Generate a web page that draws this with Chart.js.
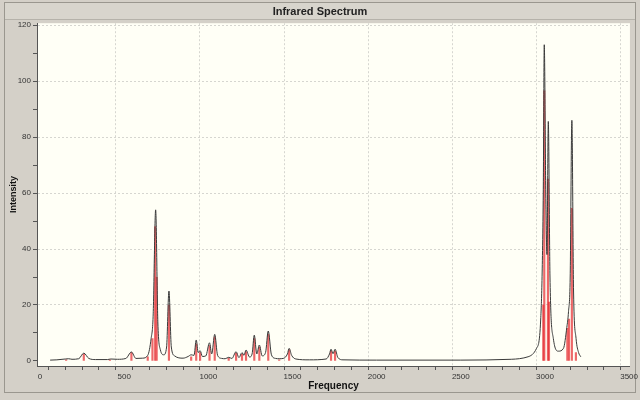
<!DOCTYPE html>
<html>
<head>
<meta charset="utf-8">
<script src="https://cdn.jsdelivr.net/npm/chart.js@4.4.1/dist/chart.umd.min.js"></script>
<style>
html,body{margin:0;padding:0;background:#d4d0c8;}
canvas{display:block;}
</style>
</head>
<body>
<canvas id="c" width="640" height="400"></canvas>
<script>
// Broadened spectrum (frequency, intensity)
const specFreq = [60,100,150,170,190,230,260,290,330,400,420,460,510,543,570,610,640,660,672,687,700,715,735,752,766,780,800,850,880,898,915,928,940,951,965,985,1007,1020,1038,1055,1080,1100,1121,1140,1165,1182,1200,1212,1224,1245,1260,1273,1288,1303,1320,1340,1356,1375,1400,1421,1445,1470,1480,1495,1520,1600,1700,1720,1729,1741,1753,1770,1800,2000,2500,2800,2900,2950,2975,2990,2996,3005,3012,3020,3030,3050,3080,3110,3130,3140,3150,3160,3170,3185,3200,3213];
const specInt  = [0.3,0.4,0.7,0.8,0.6,0.8,2.8,0.9,0.5,0.5,0.7,0.6,0.9,3.2,0.9,1.0,2.0,8,16,54,14,4,2.2,5,25,5,1.8,1.0,1.6,2.2,2.0,7.5,3.0,3.7,1.6,1.8,6.5,2.5,9.5,2.0,0.9,0.8,1.3,0.9,3.3,1.2,3.0,2.0,3.9,1.4,2.5,9.2,2.5,5.7,1.8,3.0,10.7,2.2,0.9,0.8,0.9,2.5,4.5,2.0,0.7,0.4,0.7,2.5,4.2,2.6,4.2,1.2,0.4,0.3,0.3,0.6,1.5,4.5,15,60,113,60,38,85.6,30,8,3.5,4.5,12,17.6,30,86,25,8,3,1.5];
// Individual modes (sticks)
const stickFreq = [155,260,415,543,640,668,684,693,766,898,928,951,1007,1038,1121,1165,1200,1224,1273,1303,1356,1421,1480,1729,1753,2990,2996,3018,3024,3133,3143,3160,3184];
const stickInt  = [0.4,2.5,0.4,3,1.5,8,48,30,20,1.5,6,3,5.5,8.5,1,2.8,2.5,3.3,8,5,9.5,0.4,4,3.5,3.5,20,96.5,65,21,11.7,15,54.5,3];
// Axis ticks
const yTickValues = [0,10,20,30,40,50,60,70,80,90,100,110,120];
const xMajorTicks = [0,500,1000,1500,2000,2500,3000,3500];

const bgPlugin = {
  id: 'bg',
  beforeDraw(chart) {
    const {ctx, chartArea: a} = chart;
    ctx.save();
    ctx.fillStyle = '#d4d0c8';
    ctx.fillRect(0, 0, chart.width, chart.height);
    ctx.strokeStyle = '#9a978f';
    ctx.lineWidth = 1;
    ctx.strokeRect(4.5, 2.5, 631, 390);
    ctx.fillStyle = '#d8d5cd';
    ctx.fillRect(5, 3, 630, 17);
    ctx.strokeStyle = '#b5b2aa';
    ctx.beginPath(); ctx.moveTo(5, 19.5); ctx.lineTo(635, 19.5); ctx.stroke();
    ctx.fillStyle = '#fffff6';
    ctx.fillRect(a.left, a.top, a.right - a.left, a.bottom - a.top);
    ctx.restore();
  }
};

const xMinor = [];
for (let v = 0; v <= 3500; v += 100) xMinor.push(v);

new Chart(document.getElementById('c'), {
  type: 'bar',
  data: {
    datasets: [
      {
        type: 'line',
        data: specFreq.map((f, i) => ({x: f, y: specInt[i]})),
        borderColor: '#3a3a3a',
        borderWidth: 1,
        pointRadius: 0,
        cubicInterpolationMode: 'monotone',
        fill: false
      },
      {
        type: 'bar',
        data: stickFreq.map((f, i) => ({x: f, y: stickInt[i]})),
        backgroundColor: 'rgba(230,40,45,0.7)',
        borderWidth: 0,
        barThickness: 1.5
      }
    ]
  },
  options: {
    responsive: false,
    devicePixelRatio: 1,
    animation: false,
    layout: {padding: {left: 8, right: 8, top: 1, bottom: 8}},
    plugins: {
      legend: {display: false},
      tooltip: {enabled: false},
      title: {
        display: true,
        text: 'Infrared Spectrum',
        color: '#222',
        font: {family: 'Liberation Sans', size: 11, weight: 'bold'},
        padding: {top: 4, bottom: 5}
      }
    },
    scales: {
      x: {
        type: 'linear',
        min: -18,
        max: 3505,
        offset: false,
        afterBuildTicks: s => { s.ticks = xMinor.map(v => ({value: v})); },
        afterFit: s => { s.height = 26; },
        ticks: {
          autoSkip: false,
          maxRotation: 0,
          padding: 2,
          color: '#333',
          font: {family: 'Liberation Sans', size: 8},
          callback: v => xMajorTicks.includes(v) ? String(v) : ''
        },
        grid: {
          color: c => (c.tick && xMajorTicks.includes(c.tick.value)) ? '#d6d6d0' : 'rgba(0,0,0,0)',
          tickColor: '#555',
          tickLength: 4,
          drawTicks: true
        },
        border: {display: true, color: '#555', width: 1, dash: [2, 2]},
        title: {
          display: true,
          text: 'Frequency',
          color: '#111',
          font: {family: 'Liberation Sans', size: 10, weight: 'bold'},
          padding: {top: 0, bottom: 0}
        }
      },
      y: {
        min: -1.8,
        max: 120.7,
        afterBuildTicks: s => { s.ticks = yTickValues.map(v => ({value: v})); },
        afterFit: s => { s.width = 29; },
        ticks: {
          autoSkip: false,
          padding: 2,
          color: '#333',
          font: {family: 'Liberation Sans', size: 8},
          callback: v => (v % 20 === 0) ? String(v) : ''
        },
        grid: {
          color: c => (c.tick && c.tick.value % 20 === 0 && c.tick.value > 0) ? '#d6d6d0' : 'rgba(0,0,0,0)',
          tickColor: '#555',
          tickLength: 4
        },
        border: {display: true, color: '#555', width: 1, dash: [2, 2]},
        title: {
          display: true,
          text: 'Intensity',
          color: '#111',
          font: {family: 'Liberation Sans', size: 9, weight: 'bold'},
          padding: {top: 0, bottom: 2}
        }
      }
    }
  },
  plugins: [bgPlugin]
});
</script>
</body>
</html>
